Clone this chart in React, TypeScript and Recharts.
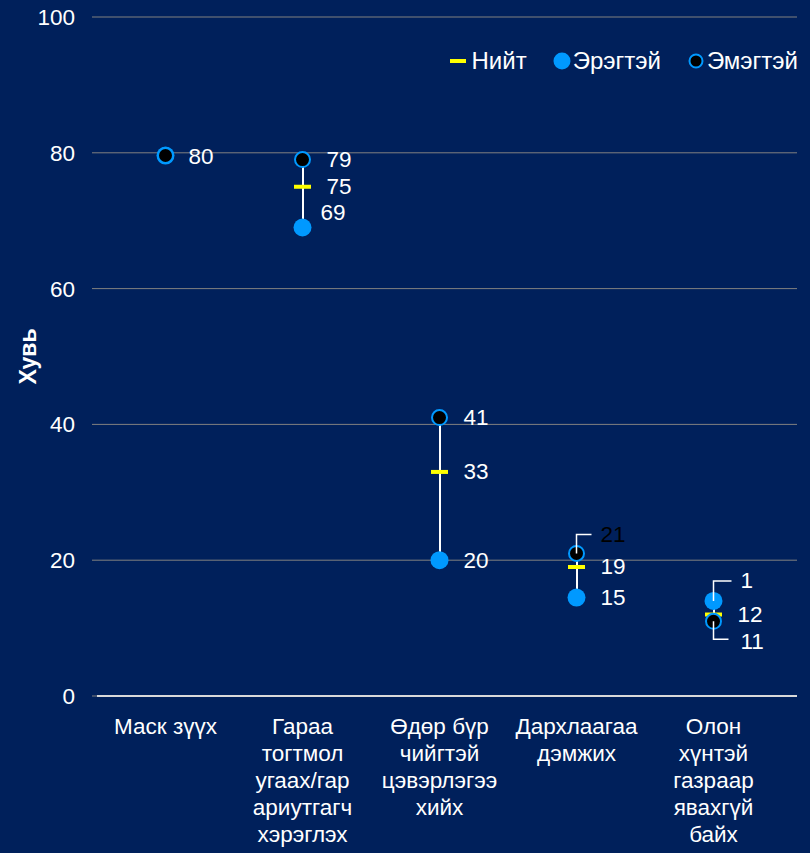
import {
  ComposedChart,
  Bar,
  Scatter,
  XAxis,
  YAxis,
  CartesianGrid,
} from "recharts";

const categories = [
  "Маск зүүх",
  "Гараа\nтогтмол\nугаах/гар\nариутгагч\nхэрэглэх",
  "Өдөр бүр\nчийгтэй\nцэвэрлэгээ\nхийх",
  "Дархлаагаа\nдэмжих",
  "Олон\nхүнтэй\nгазраар\nявахгүй\nбайх",
];
const maleValues = [79.6, 69, 20, 14.5, 14];
const femaleValues = [79.6, 79, 41, 21, 11];
const totalValues = [79.6, 75, 33, 19, 12];
const maleLabels = ["", "69", "20", "15", "1"];
const femaleLabels = ["80", "79", "41", "21", "11"];
const totalLabels = ["", "75", "33", "19", "12"];
const yTicks = [0, 20, 40, 60, 80, 100];

const BG = "#00205b";
const BLUE = "#0099ff";
const YELLOW = "#ffff00";
const FONT = "Arial, 'Liberation Sans', sans-serif";

const data = categories.map((name, i) => ({
  name,
  male: maleValues[i],
  female: femaleValues[i],
  total: totalValues[i],
  range: [
    Math.min(maleValues[i], femaleValues[i]),
    Math.max(maleValues[i], femaleValues[i]),
  ],
  maleLabel: maleLabels[i],
  femaleLabel: femaleLabels[i],
  totalLabel: totalLabels[i],
}));

type Place = { dx: number; dy: number; leader?: "up" | "down"; color?: string };
const def: Place = { dx: 24, dy: 0 };
const placement: Record<string, Place[]> = {
  male: [def, { dx: 18, dy: -15 }, def, def, { dx: 27, dy: -20, leader: "up" }],
  female: [
    { dx: 23, dy: 1 },
    def,
    def,
    { dx: 24, dy: -19, leader: "up", color: "#000" },
    { dx: 27, dy: 20, leader: "down" },
  ],
  total: [def, def, def, def, def],
};

function pointLabel(key: string, cx: number, cy: number, payload: any, index: number) {
  const text = payload[key + "Label"];
  if (!text) return null;
  const p = placement[key][index] || def;
  const lx = cx + p.dx;
  const ly = cy + p.dy;
  let leader = null;
  if (p.leader === "up") {
    leader = (
      <polyline
        points={`${cx},${cy} ${cx},${ly} ${lx - 9},${ly}`}
        fill="none"
        stroke="#fff"
        strokeWidth={1.5}
      />
    );
  } else if (p.leader === "down") {
    leader = (
      <polyline
        points={`${cx},${cy} ${cx},${ly - 2} ${lx - 12},${ly - 2}`}
        fill="none"
        stroke="#fff"
        strokeWidth={1.5}
      />
    );
  }
  return (
    <g>
      {leader}
      <text
        x={lx}
        y={ly}
        fill={p.color || "#fff"}
        fontSize={22.5}
        fontFamily={FONT}
        dominantBaseline="central"
      >
        {text}
      </text>
    </g>
  );
}

const MaleDot = (props: any) => {
  const { cx, cy, payload, index } = props;
  return (
    <g>
      <circle cx={cx} cy={cy} r={9} fill={BLUE} />
      {pointLabel("male", cx, cy, payload, index)}
    </g>
  );
};

const FemaleDot = (props: any) => {
  const { cx, cy, payload, index } = props;
  return (
    <g>
      <circle cx={cx} cy={cy} r={7.5} fill="#000" stroke={BLUE} strokeWidth={2} />
      {pointLabel("female", cx, cy, payload, index)}
    </g>
  );
};

const TotalDash = (props: any) => {
  const { cx, cy, payload, index } = props;
  return (
    <g>
      <rect x={cx - 8.5} y={cy - 2} width={17} height={4} fill={YELLOW} />
      {pointLabel("total", cx, cy, payload, index)}
    </g>
  );
};

const CategoryTick = (props: any) => {
  const { x, y, payload } = props;
  const lines = String(payload.value).split("\n");
  return (
    <text
      x={x}
      y={y}
      textAnchor="middle"
      fill="#fff"
      fontSize={22.5}
      fontFamily={FONT}
    >
      {lines.map((l, i) => (
        <tspan key={i} x={x} dy={i === 0 ? 38 : 27}>
          {l}
        </tspan>
      ))}
    </text>
  );
};

const legendItems = [
  { name: "Нийт", kind: "total" },
  { name: "Эрэгтэй", kind: "male" },
  { name: "Эмэгтэй", kind: "female" },
];

const LegendBox = () => (
  <div
    style={{
      position: "absolute",
      top: 47,
      right: 12,
      display: "flex",
      alignItems: "center",
      fontFamily: FONT,
      fontSize: 24,
      lineHeight: "28px",
      color: "#fff",
      whiteSpace: "nowrap",
    }}
  >
    {legendItems.map((it, i) => (
      <div
        key={it.name}
        style={{ display: "flex", alignItems: "center", marginLeft: i === 0 ? 0 : 26 }}
      >
        <svg width={18} height={18} style={{ marginRight: it.kind === "total" ? 4 : 2 }}>
          {it.kind === "total" && <rect x={1} y={7} width={16} height={4} fill={YELLOW} />}
          {it.kind === "male" && <circle cx={9} cy={9} r={8.5} fill={BLUE} />}
          {it.kind === "female" && (
            <circle cx={9} cy={9} r={6.5} fill="#000" stroke={BLUE} strokeWidth={2} />
          )}
        </svg>
        <span>{it.name}</span>
      </div>
    ))}
  </div>
);

export default function App() {
  return (
    <div style={{ position: "absolute", left: 0, top: 0, width: 810, height: 853, background: BG }}>
      <ComposedChart
        width={810}
        height={853}
        data={data}
        margin={{ top: 17, right: 13, bottom: 0, left: 0 }}
      >
        <CartesianGrid vertical={false} stroke="#808080" strokeWidth={1} />
        <XAxis
          dataKey="name"
          type="category"
          height={157}
          padding={{ left: 0, right: 15 }}
          axisLine={{ stroke: "#d9d9d9", strokeWidth: 2 }}
          tickLine={false}
          tickSize={0}
          tickMargin={0}
          interval={0}
          tick={<CategoryTick />}
        />
        <YAxis
          type="number"
          domain={[0, 100]}
          ticks={yTicks}
          width={97}
          axisLine={false}
          tickLine={{ stroke: "#808080" }}
          tickSize={5}
          tickMargin={17}
          tick={{ fill: "#fff", fontSize: 22.5, fontFamily: FONT }}
          label={{
            value: "Хувь",
            angle: -90,
            position: "center",
            dx: -21,
            fill: "#fff",
            fontSize: 23,
            fontWeight: "bold",
            fontFamily: FONT,
          }}
        />
        <Bar dataKey="range" barSize={2} fill="#fff" isAnimationActive={false} />
        <Scatter dataKey="total" shape={<TotalDash />} isAnimationActive={false} />
        <Scatter dataKey="male" shape={<MaleDot />} isAnimationActive={false} />
        <Scatter dataKey="female" shape={<FemaleDot />} isAnimationActive={false} />
      </ComposedChart>
      <LegendBox />
    </div>
  );
}
